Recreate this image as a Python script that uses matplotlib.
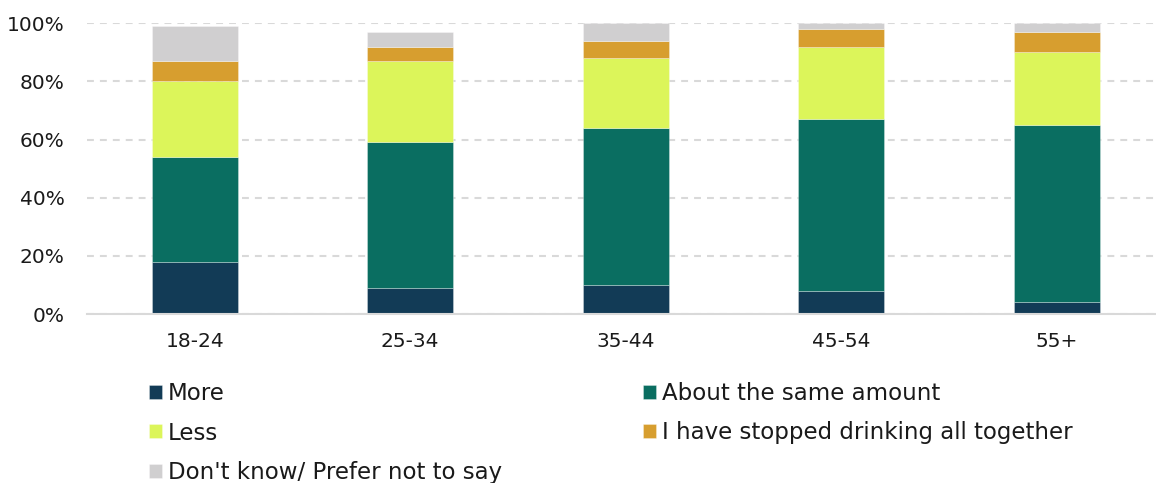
import matplotlib
matplotlib.use("Agg")
import matplotlib.pyplot as plt
import numpy as np

plt.rcParams['font.family'] = ['DejaVu Sans']

# Age groups and response shares (%)
age_groups = ["18-24", "25-34", "35-44", "45-54", "55+"]
more = [18, 9, 10, 8, 4]
same = [36, 50, 54, 59, 61]
less = [26, 28, 24, 25, 25]
stopped = [7, 5, 6, 6, 7]
dont_know = [12, 5, 6, 2, 3]

series_labels = ["More", "About the same amount", "Less",
                 "I have stopped drinking all together",
                 "Don't know/ Prefer not to say"]
series_values = [more, same, less, stopped, dont_know]
series_colors = ["#123b56", "#0a6e61", "#dcf55a", "#d79e2f", "#d0cfd0"]

W, H = 1156, 483
fig = plt.figure(figsize=(W / 100, H / 100), dpi=100)
ax = fig.add_axes([87 / W, (H - 314) / H, (W - 87) / W, (314 - 23.3) / H])

x = np.arange(len(age_groups))
bottom = np.zeros(len(age_groups))
containers = []
for vals, lab, col in zip(series_values, series_labels, series_colors):
    v = np.array(vals, dtype=float) / 100.0
    bc = ax.bar(x, v, width=0.4, bottom=bottom, color=col, label=lab,
                edgecolor=(1, 1, 1, 0.35), linewidth=0.6, zorder=3)
    containers.append(bc)
    bottom += v

ax.set_xlim(-0.5, -0.5 + (W - 87) / 215.5)
ax.set_ylim(0, 1.0)
ax.set_yticks([0, 0.2, 0.4, 0.6, 0.8, 1.0])
ax.set_yticklabels(["0%", "20%", "40%", "60%", "80%", "100%"])
ax.set_xticks(x)
ax.set_xticklabels(age_groups)

ax.yaxis.grid(True, color="#d9d9d9", linewidth=1.5, linestyle=(0, (3.3, 2.9)), zorder=0)
ax.xaxis.grid(False)
for s in ["top", "right", "left"]:
    ax.spines[s].set_visible(False)
ax.spines["bottom"].set_color("#d9d9d9")
ax.spines["bottom"].set_linewidth(1.5)
ax.spines["bottom"].set_zorder(4)
ax.tick_params(axis="both", length=0, labelsize=14.5, colors="#1a1a1a")
ax.tick_params(axis="y", pad=16)
ax.tick_params(axis="x", pad=13)

# Legend in two columns
col1 = [containers[0], containers[2], containers[4]]
col2 = [containers[1], containers[3]]
common = dict(frameon=False, fontsize=16.5, handlelength=0.55, handleheight=0.55,
              handletextpad=0.26, labelspacing=0.72, borderpad=0, borderaxespad=0,
              labelcolor="#1a1a1a")
leg1 = fig.legend(col1, [c.get_label() for c in col1], loc="upper left",
                  bbox_to_anchor=(149 / W, (H - 382) / H), **common)
leg2 = fig.legend(col2, [c.get_label() for c in col2], loc="upper left",
                  bbox_to_anchor=(643 / W, (H - 382) / H), **common)

fig.savefig("out.png", dpi=100)
